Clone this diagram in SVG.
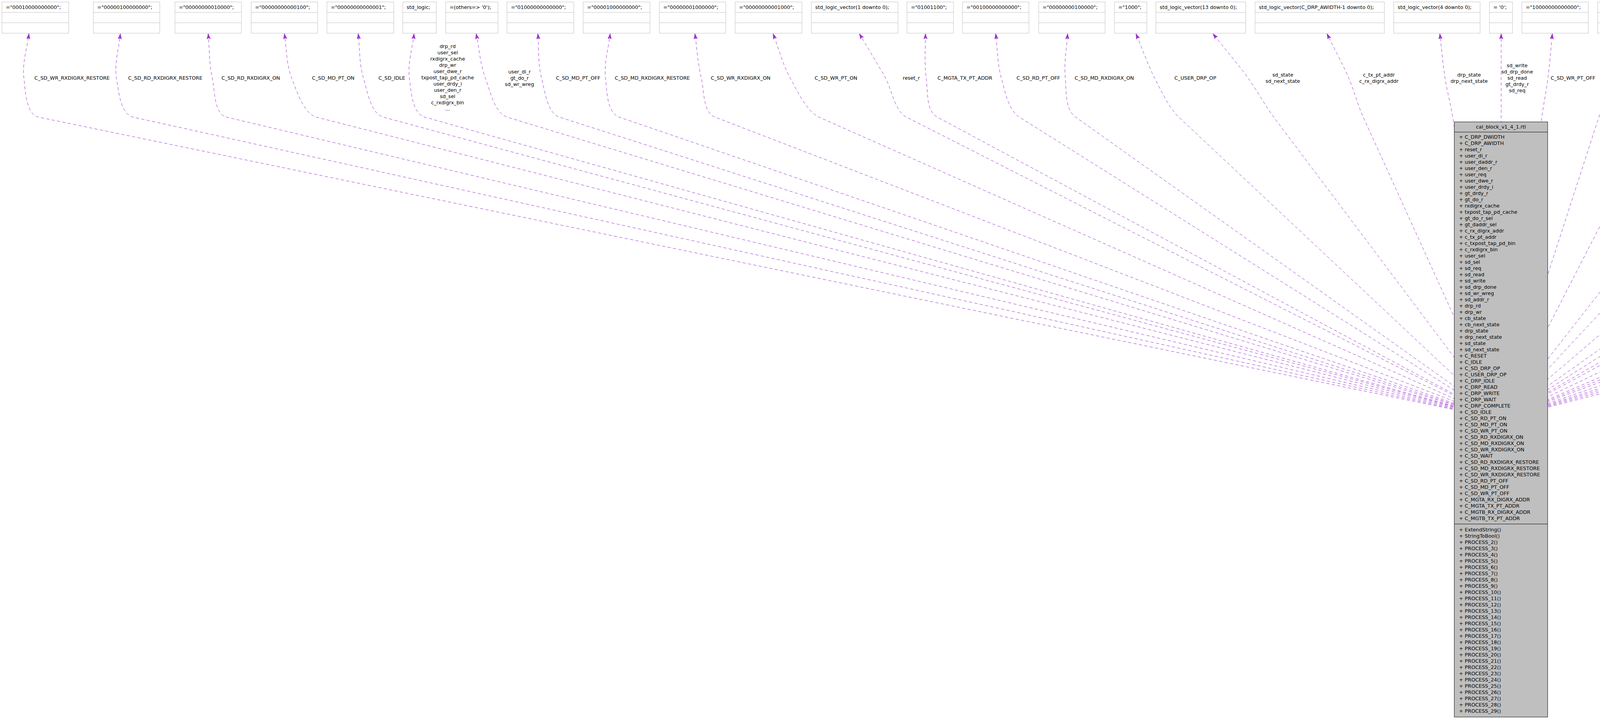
<svg xmlns="http://www.w3.org/2000/svg" width="7011" height="1840" viewBox="0 0 7011 1840">
<style>
text{font-family:"DejaVu Sans","Liberation Sans",sans-serif;font-size:12.8px;fill:#000}
.box rect{fill:#fff;stroke:#bfbfbf;stroke-width:1}
.box path{fill:none;stroke:#bfbfbf;stroke-width:1}
.e{fill:none;stroke:#9a32cd;stroke-width:1;stroke-dasharray:8,6;marker-end:url(#arr)}
.lbl{text-anchor:middle}
</style>
<defs>
<marker id="arr" viewBox="0 0 14 10" refX="14" refY="5" markerWidth="14" markerHeight="10" markerUnits="userSpaceOnUse" orient="auto">
<path d="M0,0.4 L14,5 L0,9.6 L3,5 Z" fill="#9a32cd" stroke="#9a32cd" stroke-width="0.8"/>
</marker>
</defs>
<rect width="7011" height="1840" fill="#fff"/>
<g id="connectors">
<path class="e" d="M3842,1073 L100,300 C65.7,292.9 65.2,232.7 61,198 C56.5,161.3 69.7,123.3 74,86"/>
<path class="e" d="M3842,1073 L342,300 C307.8,292.5 303.5,232.6 298,198 C292.2,161.5 304.7,123.3 308,86"/>
<path class="e" d="M3842,1073 L581,300 C546.9,291.9 550.7,232.2 543,198 C534.9,161.9 536.3,123.3 533,86"/>
<path class="e" d="M3842,1073 L811,300 C777.1,291.4 758.7,230.6 746,198 C732.6,163.5 734,123.3 728,86"/>
<path class="e" d="M3842,1073 L982,300 C948.2,290.9 940.2,231.5 930,198 C919.2,162.6 921.3,123.3 917,86"/>
<path class="e" d="M3842,1073 L1088,300 C1054.3,290.5 1052.5,232.7 1048,198 C1043.2,161.3 1056,123.3 1060,86"/>
<path class="e" d="M3842,1073 L1299,300 C1265.5,289.8 1254.3,230.8 1242,198 C1229,163.3 1226.7,123.3 1219,86"/>
<path class="e" d="M3842,1073 L1433,300 C1399.7,289.3 1394.9,231.8 1386,198 C1376.6,162.2 1380,123.3 1377,86"/>
<path class="e" d="M3842,1073 L1586,300 C1552.9,288.7 1553.9,232.8 1550,198 C1545.9,161.2 1558,123.3 1562,86"/>
<path class="e" d="M3842,1073 L1831,300 C1798.3,287.4 1803.3,232 1795,198 C1786.3,162 1784.3,123.3 1779,86"/>
<path class="e" d="M3842,1073 L2097,300 C2065,285.8 2038.9,228.7 2022,198 C2004.1,165.6 1993.3,123.3 1979,86"/>
<path class="e" d="M3842,1073 L2321,300 C2289.8,284.1 2283.2,228.5 2266,198 C2247.8,165.8 2222,123.3 2200,86"/>
<path class="e" d="M3842,1073 L2400,300 C2369.2,283.5 2376,232.6 2371,198 C2365.7,161.4 2369.7,123.3 2369,86"/>
<path class="e" d="M3842,1073 L2610,300 C2580.4,281.4 2572.6,231.7 2563,198 C2552.9,162.4 2553.7,123.3 2549,86"/>
<path class="e" d="M3842,1073 L2754,300 C2725.5,279.7 2730.4,232.8 2727,198 C2723.4,161.2 2731,123.3 2733,86"/>
<path class="e" d="M3842,1073 L3018,300 C2992.5,276.1 2971,229.1 2955,198 C2938.1,165.1 2923.7,123.3 2908,86"/>
<path class="e" d="M3842,1073 L3261,300 C3240,272 3214.6,226.3 3194,198 C3172.2,168.1 3134.7,123.3 3105,86"/>
<path class="e" d="M3842,1073 L3490,300 C3475.5,268.1 3466,230.1 3452,198 C3437.3,164.1 3415.3,123.3 3397,86"/>
<path class="e" d="M3842,1073 L3719,300 C3713.5,265.4 3704.3,232.6 3699,198 C3693.4,161.4 3690.3,123.3 3686,86"/>
<path class="e" d="M3843,1073 L3843,86"/>
<path class="e" d="M3842,1073 L3947,300 C3951.7,265.3 3958.6,232.7 3963,198 C3967.6,161.3 3970.3,123.3 3974,86"/>
<path class="e" d="M3842,1073 L4093,300 C4103.8,266.7 4109.7,231.5 4120,198 C4130.9,162.6 4146,123.3 4159,86"/>
<path class="e" d="M3842,1073 L4239,300 C4255,268.9 4276.2,229.3 4292,198 C4308.7,165 4328.7,123.3 4347,86"/>
<path class="e" d="M3842,1073 L4445,300 C4466.5,272.4 4473.5,231.4 4484,198 C4495.1,162.7 4502.7,123.3 4512,86"/>
<path class="e" d="M3842,1073 L4564,300 C4587.9,274.4 4612.7,229 4629,198 C4646.3,165.3 4661,123.3 4677,86"/>
<path class="e" d="M3842,1073 L4748,300 C4774.6,277.3 4797.8,229 4814,198 C4831.2,165.2 4844.7,123.3 4860,86"/>
<path class="e" d="M3842,1073 L4934,300 C4962.6,279.8 4957,232.3 4964,198 C4971.5,161.8 4973.3,123.3 4978,86"/>
<path class="e" d="M3842,1073 L5062,300 C5091.6,281.3 5076.7,232.4 5083,198 C5089.6,161.6 5095,123.3 5101,86"/>
<path class="e" d="M3842,1073 L5186,300 C5216.3,282.5 5215.2,232.5 5221,198 C5227.1,161.5 5221.7,123.3 5222,86"/>
<path class="e" d="M3842,1073 L5267,300 C5297.8,283.3 5322.9,229.1 5339,198 C5356,165.1 5365,123.3 5378,86"/>
<path class="e" d="M3842,1073 L5463,300 C5494.6,284.9 5482.3,231.6 5492,198 C5502.3,162.5 5514,123.3 5525,86"/>
<path class="e" d="M3842,1073 L5675,300 C5707.2,286.4 5699,232.5 5705,198 C5711.3,161.5 5709.7,123.3 5712,86"/>
<path class="e" d="M3842,1073 L5792,300 C5824.5,287.1 5825.6,232.2 5833,198 C5840.8,161.8 5836.3,123.3 5838,86"/>
<path class="e" d="M3842,1073 L5914,300 C5946.8,287.8 5986.2,227.5 6005,198 C6024.8,166.8 6035,123.3 6050,86"/>
<path class="e" d="M3842,1073 L6129,300 C6162.2,288.8 6178,230 6183,198 C6186,160 6215,95 6258,76"/>
<path class="e" d="M3842,1073 L6312,300 C6345.4,289.5 6342.6,232.2 6350,198 C6357.8,161.8 6355.3,123.3 6358,86"/>
<path class="e" d="M3842,1073 L6465,300 C6498.6,290.1 6494.3,232.3 6501,198 C6508.1,161.7 6505,123.3 6507,86"/>
<path class="e" d="M3842,1073 L6648,300 C6681.7,290.7 6677.4,232.4 6684,198 C6691,161.7 6687.3,123.3 6689,86"/>
<path class="e" d="M3842,1073 L6856,300 C6889.9,291.3 6898.2,232.1 6906,198 C6914.3,161.9 6905.3,123.3 6905,86"/>
<g id="edge-labels" class="lbl">
<text x="184.5" y="203.5">C_SD_WR_RXDIGRX_RESTORE</text>
<text x="423" y="203.5">C_SD_RD_RXDIGRX_RESTORE</text>
<text x="642" y="203.5">C_SD_RD_RXDIGRX_ON</text>
<text x="853" y="203.5">C_SD_MD_PT_ON</text>
<text x="1003" y="203.5">C_SD_IDLE</text>
<text x="1146" y="123"><tspan x="1146" dy="0">drp_rd</tspan><tspan x="1146" dy="16">user_sel</tspan><tspan x="1146" dy="16">rxdigrx_cache</tspan><tspan x="1146" dy="16">drp_wr</tspan><tspan x="1146" dy="16">user_dwe_r</tspan><tspan x="1146" dy="16">txpost_tap_pd_cache</tspan><tspan x="1146" dy="16">user_drdy_i</tspan><tspan x="1146" dy="16">user_den_r</tspan><tspan x="1146" dy="16">sd_sel</tspan><tspan x="1146" dy="16">c_rxdigrx_bin</tspan><tspan x="1146" dy="16">...</tspan></text>
<text x="1330" y="187.5"><tspan x="1330" dy="0">user_di_r</tspan><tspan x="1330" dy="16">gt_do_r</tspan><tspan x="1330" dy="16">sd_wr_wreg</tspan></text>
<text x="1480" y="203.5">C_SD_MD_PT_OFF</text>
<text x="1670" y="203.5">C_SD_MD_RXDIGRX_RESTORE</text>
<text x="1896" y="203.5">C_SD_WR_RXDIGRX_ON</text>
<text x="2140" y="203.5">C_SD_WR_PT_ON</text>
<text x="2333" y="203.5">reset_r</text>
<text x="2470" y="203.5">C_MGTA_TX_PT_ADDR</text>
<text x="2658" y="203.5">C_SD_RD_PT_OFF</text>
<text x="2827" y="203.5">C_SD_MD_RXDIGRX_ON</text>
<text x="3060" y="203.5">C_USER_DRP_OP</text>
<text x="3284" y="195.5"><tspan x="3284" dy="0">sd_state</tspan><tspan x="3284" dy="16">sd_next_state</tspan></text>
<text x="3530" y="195.5"><tspan x="3530" dy="0">c_tx_pt_addr</tspan><tspan x="3530" dy="16">c_rx_digrx_addr</tspan></text>
<text x="3761" y="195.5"><tspan x="3761" dy="0">drp_state</tspan><tspan x="3761" dy="16">drp_next_state</tspan></text>
<text x="3884" y="171.5"><tspan x="3884" dy="0">sd_write</tspan><tspan x="3884" dy="16">sd_drp_done</tspan><tspan x="3884" dy="16">sd_read</tspan><tspan x="3884" dy="16">gt_drdy_r</tspan><tspan x="3884" dy="16">sd_req</tspan></text>
<text x="4027" y="203.5">C_SD_WR_PT_OFF</text>
<text x="4188" y="203.5">C_SD_WAIT</text>
<text x="4386" y="203.5">C_SD_RD_PT_ON</text>
<text x="4534" y="203.5">C_RESET</text>
<text x="4709" y="195.5"><tspan x="4709" dy="0">gt_daddr_sel</tspan><tspan x="4709" dy="16">gt_do_r_sel</tspan></text>
<text x="4894" y="203.5">C_DRP_WAIT</text>
<text x="5017" y="203.5">C_DRP_WRITE</text>
<text x="5142" y="203.5">C_SD_DRP_OP</text>
<text x="5248" y="203.5">C_IDLE</text>
<text x="5416" y="195.5"><tspan x="5416" dy="0">cb_state</tspan><tspan x="5416" dy="16">cb_next_state</tspan></text>
<text x="5591" y="203.5">C_MGTB_RX_DIGRX_ADDR</text>
<text x="5753" y="203.5">C_DRP_READ</text>
<text x="5880" y="203.5">C_DRP_IDLE</text>
<text x="6086" y="195.5"><tspan x="6086" dy="0">sd_addr_r</tspan><tspan x="6086" dy="16">user_daddr_r</tspan></text>
<text x="6267" y="203.5">C_DRP_AWIDTH</text>
<text x="6413" y="203.5">C_DRP_COMPLETE</text>
<text x="6578" y="203.5">C_MGTB_TX_PT_ADDR</text>
<text x="6773" y="203.5">C_MGTA_RX_DIGRX_ADDR</text>
<text x="6957" y="203.5">C_DRP_DWIDTH</text>
</g>
</g>
<g id="b1" class="box"><rect x="5" y="5" width="171" height="80"/><path d="M5,31.7h171M5,58.3h171"/><text x="15" y="23">="00010000000000";</text></g>
<g id="b2" class="box"><rect x="239" y="5" width="170" height="80"/><path d="M239,31.7h170M239,58.3h170"/><text x="249" y="23">="00000100000000";</text></g>
<g id="b3" class="box"><rect x="448" y="5" width="170" height="80"/><path d="M448,31.7h170M448,58.3h170"/><text x="458" y="23">="00000000010000";</text></g>
<g id="b4" class="box"><rect x="643" y="5" width="170" height="80"/><path d="M643,31.7h170M643,58.3h170"/><text x="653" y="23">="00000000000100";</text></g>
<g id="b5" class="box"><rect x="837" y="5" width="171" height="80"/><path d="M837,31.7h171M837,58.3h171"/><text x="847" y="23">="00000000000001";</text></g>
<g id="b6" class="box"><rect x="1031" y="5" width="86" height="80"/><path d="M1031,31.7h86M1031,58.3h86"/><text x="1041" y="23">std_logic;</text></g>
<g id="b7" class="box"><rect x="1141" y="5" width="134" height="80"/><path d="M1141,31.7h134M1141,58.3h134"/><text x="1151" y="23">=(others=&gt; '0');</text></g>
<g id="b8" class="box"><rect x="1298" y="5" width="171" height="80"/><path d="M1298,31.7h171M1298,58.3h171"/><text x="1308" y="23">="01000000000000";</text></g>
<g id="b9" class="box"><rect x="1493" y="5" width="171" height="80"/><path d="M1493,31.7h171M1493,58.3h171"/><text x="1503" y="23">="00001000000000";</text></g>
<g id="b10" class="box"><rect x="1688" y="5" width="170" height="80"/><path d="M1688,31.7h170M1688,58.3h170"/><text x="1698" y="23">="00000001000000";</text></g>
<g id="b11" class="box"><rect x="1882" y="5" width="171" height="80"/><path d="M1882,31.7h171M1882,58.3h171"/><text x="1892" y="23">="00000000001000";</text></g>
<g id="b12" class="box"><rect x="2077" y="5" width="222" height="80"/><path d="M2077,31.7h222M2077,58.3h222"/><text x="2087" y="23">std_logic_vector(1 downto 0);</text></g>
<g id="b13" class="box"><rect x="2322" y="5" width="119" height="80"/><path d="M2322,31.7h119M2322,58.3h119"/><text x="2332" y="23">="01001100";</text></g>
<g id="b14" class="box"><rect x="2464" y="5" width="170" height="80"/><path d="M2464,31.7h170M2464,58.3h170"/><text x="2474" y="23">="00100000000000";</text></g>
<g id="b15" class="box"><rect x="2659" y="5" width="170" height="80"/><path d="M2659,31.7h170M2659,58.3h170"/><text x="2669" y="23">="00000000100000";</text></g>
<g id="b16" class="box"><rect x="2853" y="5" width="83" height="80"/><path d="M2853,31.7h83M2853,58.3h83"/><text x="2863" y="23">="1000";</text></g>
<g id="b17" class="box"><rect x="2959" y="5" width="230" height="80"/><path d="M2959,31.7h230M2959,58.3h230"/><text x="2969" y="23">std_logic_vector(13 downto 0);</text></g>
<g id="b18" class="box"><rect x="3213" y="5" width="331" height="80"/><path d="M3213,31.7h331M3213,58.3h331"/><text x="3223" y="23">std_logic_vector(C_DRP_AWIDTH-1 downto 0);</text></g>
<g id="b19" class="box"><rect x="3568" y="5" width="221" height="80"/><path d="M3568,31.7h221M3568,58.3h221"/><text x="3578" y="23">std_logic_vector(4 downto 0);</text></g>
<g id="b20" class="box"><rect x="3813" y="5" width="59" height="80"/><path d="M3813,31.7h59M3813,58.3h59"/><text x="3823" y="23">= '0';</text></g>
<g id="b21" class="box"><rect x="3896" y="5" width="170" height="80"/><path d="M3896,31.7h170M3896,58.3h170"/><text x="3906" y="23">="10000000000000";</text></g>
<g id="b22" class="box"><rect x="4090" y="5" width="170" height="80"/><path d="M4090,31.7h170M4090,58.3h170"/><text x="4100" y="23">="00000010000000";</text></g>
<g id="b23" class="box"><rect x="4285" y="5" width="170" height="80"/><path d="M4285,31.7h170M4285,58.3h170"/><text x="4295" y="23">="00000000000010";</text></g>
<g id="b24" class="box"><rect x="4479" y="5" width="84" height="80"/><path d="M4479,31.7h84M4479,58.3h84"/><text x="4489" y="23">="0001";</text></g>
<g id="b25" class="box"><rect x="4586" y="5" width="222" height="80"/><path d="M4586,31.7h222M4586,58.3h222"/><text x="4596" y="23">std_logic_vector(2 downto 0);</text></g>
<g id="b26" class="box"><rect x="4832" y="5" width="93" height="80"/><path d="M4832,31.7h93M4832,58.3h93"/><text x="4842" y="23">="01000";</text></g>
<g id="b27" class="box"><rect x="4949" y="5" width="94" height="80"/><path d="M4949,31.7h94M4949,58.3h94"/><text x="4959" y="23">="00100";</text></g>
<g id="b28" class="box"><rect x="5066" y="5" width="84" height="80"/><path d="M5066,31.7h84M5066,58.3h84"/><text x="5076" y="23">="0100";</text></g>
<g id="b29" class="box"><rect x="5173" y="5" width="83" height="80"/><path d="M5173,31.7h83M5173,58.3h83"/><text x="5183" y="23">="0010";</text></g>
<g id="b30" class="box"><rect x="5280" y="5" width="221" height="80"/><path d="M5280,31.7h221M5280,58.3h221"/><text x="5290" y="23">std_logic_vector(3 downto 0);</text></g>
<g id="b31" class="box"><rect x="5525" y="5" width="117" height="80"/><path d="M5525,31.7h117M5525,58.3h117"/><text x="5535" y="23">="01011001";</text></g>
<g id="b32" class="box"><rect x="5666" y="5" width="93" height="80"/><path d="M5666,31.7h93M5666,58.3h93"/><text x="5676" y="23">="00010";</text></g>
<g id="b33" class="box"><rect x="5783" y="5" width="94" height="80"/><path d="M5783,31.7h94M5783,58.3h94"/><text x="5793" y="23">="00001";</text></g>
<g id="b34" class="box"><rect x="5901" y="5" width="334" height="80"/><path d="M5901,31.7h334M5901,58.3h334"/><text x="5911" y="23">std_logic_vector(C_DRP_AWIDTH-3 downto 0);</text></g>
<g id="b35" class="box"><rect x="6259" y="5" width="47" height="80"/><path d="M6259,31.7h47M6259,58.3h47"/><text x="6269" y="23">=8;</text></g>
<g id="b36" class="box"><rect x="6329" y="5" width="94" height="80"/><path d="M6329,31.7h94M6329,58.3h94"/><text x="6339" y="23">="10000";</text></g>
<g id="b37" class="box"><rect x="6448" y="5" width="118" height="80"/><path d="M6448,31.7h118M6448,58.3h118"/><text x="6458" y="23">="01001110";</text></g>
<g id="b38" class="box"><rect x="6630" y="5" width="118" height="80"/><path d="M6630,31.7h118M6630,58.3h118"/><text x="6640" y="23">="01111101";</text></g>
<g id="b39" class="box"><rect x="6869" y="5" width="55" height="80"/><path d="M6869,31.7h55M6869,58.3h55"/><text x="6879" y="23">=16;</text></g>
<g id="main">
<rect x="3723" y="312" width="239" height="1523" fill="#bfbfbf" stroke="#000" stroke-width="1"/>
<path d="M3723,338h239M3723,1341h239" stroke="#000" stroke-width="1" fill="none"/>
<text x="3842.5" y="329" text-anchor="middle">cal_block_v1_4_1.rtl</text>
<text x="3735" y="355"><tspan x="3735" dy="0">+ C_DRP_DWIDTH</tspan><tspan x="3735" dy="16">+ C_DRP_AWIDTH</tspan><tspan x="3735" dy="16">+ reset_r</tspan><tspan x="3735" dy="16">+ user_di_r</tspan><tspan x="3735" dy="16">+ user_daddr_r</tspan><tspan x="3735" dy="16">+ user_den_r</tspan><tspan x="3735" dy="16">+ user_req</tspan><tspan x="3735" dy="16">+ user_dwe_r</tspan><tspan x="3735" dy="16">+ user_drdy_i</tspan><tspan x="3735" dy="16">+ gt_drdy_r</tspan><tspan x="3735" dy="16">+ gt_do_r</tspan><tspan x="3735" dy="16">+ rxdigrx_cache</tspan><tspan x="3735" dy="16">+ txpost_tap_pd_cache</tspan><tspan x="3735" dy="16">+ gt_do_r_sel</tspan><tspan x="3735" dy="16">+ gt_daddr_sel</tspan><tspan x="3735" dy="16">+ c_rx_digrx_addr</tspan><tspan x="3735" dy="16">+ c_tx_pt_addr</tspan><tspan x="3735" dy="16">+ c_txpost_tap_pd_bin</tspan><tspan x="3735" dy="16">+ c_rxdigrx_bin</tspan><tspan x="3735" dy="16">+ user_sel</tspan><tspan x="3735" dy="16">+ sd_sel</tspan><tspan x="3735" dy="16">+ sd_req</tspan><tspan x="3735" dy="16">+ sd_read</tspan><tspan x="3735" dy="16">+ sd_write</tspan><tspan x="3735" dy="16">+ sd_drp_done</tspan><tspan x="3735" dy="16">+ sd_wr_wreg</tspan><tspan x="3735" dy="16">+ sd_addr_r</tspan><tspan x="3735" dy="16">+ drp_rd</tspan><tspan x="3735" dy="16">+ drp_wr</tspan><tspan x="3735" dy="16">+ cb_state</tspan><tspan x="3735" dy="16">+ cb_next_state</tspan><tspan x="3735" dy="16">+ drp_state</tspan><tspan x="3735" dy="16">+ drp_next_state</tspan><tspan x="3735" dy="16">+ sd_state</tspan><tspan x="3735" dy="16">+ sd_next_state</tspan><tspan x="3735" dy="16">+ C_RESET</tspan><tspan x="3735" dy="16">+ C_IDLE</tspan><tspan x="3735" dy="16">+ C_SD_DRP_OP</tspan><tspan x="3735" dy="16">+ C_USER_DRP_OP</tspan><tspan x="3735" dy="16">+ C_DRP_IDLE</tspan><tspan x="3735" dy="16">+ C_DRP_READ</tspan><tspan x="3735" dy="16">+ C_DRP_WRITE</tspan><tspan x="3735" dy="16">+ C_DRP_WAIT</tspan><tspan x="3735" dy="16">+ C_DRP_COMPLETE</tspan><tspan x="3735" dy="16">+ C_SD_IDLE</tspan><tspan x="3735" dy="16">+ C_SD_RD_PT_ON</tspan><tspan x="3735" dy="16">+ C_SD_MD_PT_ON</tspan><tspan x="3735" dy="16">+ C_SD_WR_PT_ON</tspan><tspan x="3735" dy="16">+ C_SD_RD_RXDIGRX_ON</tspan><tspan x="3735" dy="16">+ C_SD_MD_RXDIGRX_ON</tspan><tspan x="3735" dy="16">+ C_SD_WR_RXDIGRX_ON</tspan><tspan x="3735" dy="16">+ C_SD_WAIT</tspan><tspan x="3735" dy="16">+ C_SD_RD_RXDIGRX_RESTORE</tspan><tspan x="3735" dy="16">+ C_SD_MD_RXDIGRX_RESTORE</tspan><tspan x="3735" dy="16">+ C_SD_WR_RXDIGRX_RESTORE</tspan><tspan x="3735" dy="16">+ C_SD_RD_PT_OFF</tspan><tspan x="3735" dy="16">+ C_SD_MD_PT_OFF</tspan><tspan x="3735" dy="16">+ C_SD_WR_PT_OFF</tspan><tspan x="3735" dy="16">+ C_MGTA_RX_DIGRX_ADDR</tspan><tspan x="3735" dy="16">+ C_MGTA_TX_PT_ADDR</tspan><tspan x="3735" dy="16">+ C_MGTB_RX_DIGRX_ADDR</tspan><tspan x="3735" dy="16">+ C_MGTB_TX_PT_ADDR</tspan></text>
<text x="3735" y="1359.5"><tspan x="3735" dy="0">+ ExtendString()</tspan><tspan x="3735" dy="16">+ StringToBool()</tspan><tspan x="3735" dy="16">+ PROCESS_2()</tspan><tspan x="3735" dy="16">+ PROCESS_3()</tspan><tspan x="3735" dy="16">+ PROCESS_4()</tspan><tspan x="3735" dy="16">+ PROCESS_5()</tspan><tspan x="3735" dy="16">+ PROCESS_6()</tspan><tspan x="3735" dy="16">+ PROCESS_7()</tspan><tspan x="3735" dy="16">+ PROCESS_8()</tspan><tspan x="3735" dy="16">+ PROCESS_9()</tspan><tspan x="3735" dy="16">+ PROCESS_10()</tspan><tspan x="3735" dy="16">+ PROCESS_11()</tspan><tspan x="3735" dy="16">+ PROCESS_12()</tspan><tspan x="3735" dy="16">+ PROCESS_13()</tspan><tspan x="3735" dy="16">+ PROCESS_14()</tspan><tspan x="3735" dy="16">+ PROCESS_15()</tspan><tspan x="3735" dy="16">+ PROCESS_16()</tspan><tspan x="3735" dy="16">+ PROCESS_17()</tspan><tspan x="3735" dy="16">+ PROCESS_18()</tspan><tspan x="3735" dy="16">+ PROCESS_19()</tspan><tspan x="3735" dy="16">+ PROCESS_20()</tspan><tspan x="3735" dy="16">+ PROCESS_21()</tspan><tspan x="3735" dy="16">+ PROCESS_22()</tspan><tspan x="3735" dy="16">+ PROCESS_23()</tspan><tspan x="3735" dy="16">+ PROCESS_24()</tspan><tspan x="3735" dy="16">+ PROCESS_25()</tspan><tspan x="3735" dy="16">+ PROCESS_26()</tspan><tspan x="3735" dy="16">+ PROCESS_27()</tspan><tspan x="3735" dy="16">+ PROCESS_28()</tspan><tspan x="3735" dy="16">+ PROCESS_29()</tspan></text>
</g>
</svg>
